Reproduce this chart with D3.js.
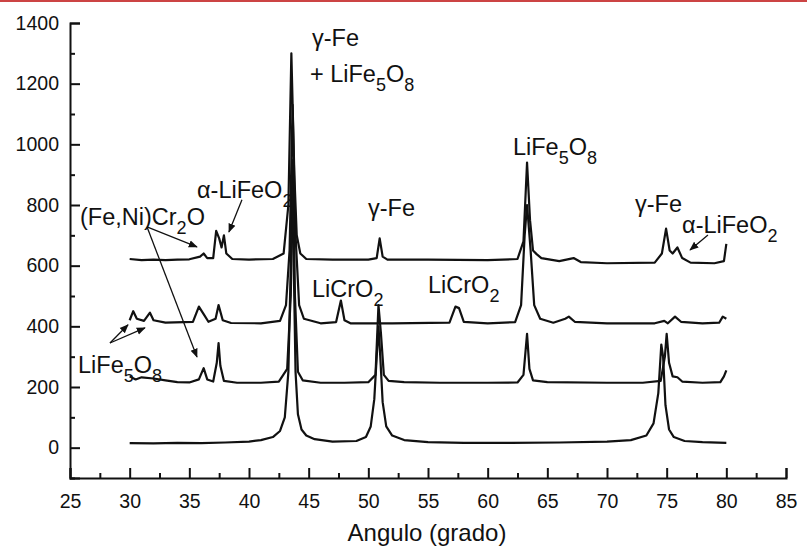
<html>
<head>
<script src="https://d3js.org/d3.v7.min.js"></script>
<style>
  body { margin: 0; background: white; }
  svg text { font-family: Arial, "Liberation Sans", sans-serif; fill: #111; }
</style>
</head>
<body>
<svg id="chart" width="807" height="548"></svg>
<script>
// ---- data: [angle (deg), intensity] ----
const trace0 = [[30,15],[32,14],[34,16],[36,15],[38,17],[40,20],[41,25],[42,35],[42.6,55],[43.0,100],[43.3,250],[43.5,600],[43.62,900],[43.75,600],[43.9,250],[44.1,110],[44.4,60],[44.8,40],[45.5,28],[47,20],[49,22],[49.8,35],[50.2,70],[50.5,160],[50.7,300],[50.85,400],[51.0,300],[51.2,150],[51.5,70],[52,40],[53,25],[55,18],[58,16],[62,16],[66,17],[70,20],[72,25],[73.3,40],[73.9,80],[74.3,180],[74.55,340],[74.7,300],[74.9,140],[75.2,60],[75.6,35],[76.5,22],[78,18],[80,16]];

const trace1 = [[30,235],[30.5,225],[31,232],[32,228],[33,222],[34,216],[35,215],[35.8,225],[36.2,262],[36.5,225],[37.0,218],[37.3,280],[37.45,345],[37.6,270],[37.9,220],[39,214],[41,214],[42.5,218],[43.2,260],[43.5,500],[43.7,950],[43.85,500],[44.1,250],[44.5,222],[46,214],[48,214],[50,216],[50.6,240],[50.85,470],[51.05,380],[51.3,240],[51.7,220],[53,216],[56,214],[60,214],[62.5,215],[63.0,240],[63.3,375],[63.5,260],[63.8,222],[65,216],[70,214],[73,214],[74.5,220],[74.85,300],[75.0,375],[75.2,280],[75.5,235],[75.9,232],[76.3,218],[78,214],[79.5,216],[79.8,235],[80,255]];

const trace2 = [[30,420],[30.3,450],[30.6,425],[31.2,418],[31.7,445],[32.0,420],[33,412],[35.3,415],[35.8,465],[36.2,440],[36.6,415],[37.2,425],[37.45,470],[37.8,420],[38.5,411],[41,410],[42.6,418],[43.1,470],[43.4,650],[43.65,1130],[43.9,700],[44.2,470],[44.6,425],[46,410],[47.3,414],[47.7,485],[48.0,420],[48.5,410],[52,410],[56.8,412],[57.3,465],[57.6,460],[58,415],[60,410],[62.3,414],[62.8,470],[63.1,700],[63.3,800],[63.6,650],[63.9,470],[64.4,425],[65.5,412],[66.5,425],[66.8,432],[67.3,415],[70,410],[74,410],[74.8,418],[75.1,410],[75.7,432],[76.2,415],[78,410],[79.4,412],[79.7,432],[80,425]];

const trace3 = [[30,622],[31,618],[32,620],[33,618],[34,620],[35,621],[35.9,630],[36.2,640],[36.5,625],[37.0,625],[37.25,715],[37.5,690],[37.7,660],[37.9,700],[38.1,640],[38.6,622],[40,620],[42,622],[42.9,640],[43.3,800],[43.55,1300],[43.8,900],[44.0,700],[44.3,640],[44.8,622],[47,620],[50,620],[50.7,625],[50.95,690],[51.2,630],[51.6,620],[55,620],[60,618],[62.5,622],[63.0,680],[63.3,940],[63.55,750],[63.8,650],[64.1,638],[64.5,625],[66,615],[67.2,625],[67.8,612],[70,608],[74,610],[74.6,640],[74.95,722],[75.25,650],[75.5,640],[75.9,660],[76.3,625],[77,610],[79,608],[79.8,615],[80,672]];

const traces = [trace0, trace1, trace2, trace3];

const xTicks = [25, 30, 35, 40, 45, 50, 55, 60, 65, 70, 75, 80, 85];
const xMinor = [27.5, 32.5, 37.5, 42.5, 47.5, 52.5, 57.5, 62.5, 67.5, 72.5, 77.5, 82.5];
const yTicks = [0, 200, 400, 600, 800, 1000, 1200, 1400];
const yMinor = [-100, 100, 300, 500, 700, 900, 1100, 1300];

// phase labels: pieces of [text, isSubscript], anchored at [angle, intensity]
const labels = [
  {at: [45.28, 1324], parts: [["γ-Fe", 0]]},
  {at: [45.11, 1205], parts: [["+ LiFe", 0], ["5", 1], ["O", 0], ["8", 1]]},
  {at: [62.12, 965], parts: [["LiFe", 0], ["5", 1], ["O", 0], ["8", 1]]},
  {at: [35.64, 823], parts: [["α-LiFeO", 0], ["2", 1]]},
  {at: [25.84, 734], parts: [["(Fe,Ni)Cr", 0], ["2", 1], ["O", 0]]},
  {at: [25.67, 246], parts: [["LiFe", 0], ["5", 1], ["O", 0], ["8", 1]]},
  {at: [49.97, 764], parts: [["γ-Fe", 0]]},
  {at: [45.28, 497], parts: [["LiCrO", 0], ["2", 1]]},
  {at: [55.0, 510], parts: [["LiCrO", 0], ["2", 1]]},
  {at: [72.35, 777], parts: [["γ-Fe", 0]]},
  {at: [76.29, 708], parts: [["α-LiFeO", 0], ["2", 1]]}
];

const arrows = [
  [[39.41, 817], [38.32, 711]],
  [[31.45, 728], [35.64, 662]],
  [[31.45, 728], [35.64, 299]],
  [[28.35, 345], [29.86, 405]],
  [[28.35, 345], [31.28, 395]],
  [[78.46, 701], [76.96, 652]]
];

const svg = d3.select('#chart');

// red rule on top of the scan
svg.append('rect').attr('x', 0).attr('y', 0).attr('width', 807).attr('height', 2).attr('fill', '#cc4444');

const x = d3.scaleLinear().domain([25, 85]).range([70, 786]);
const y = d3.scaleLinear().domain([-100, 1400]).range([478, 23]);

// traces
const line = d3.line().x(d => x(d[0])).y(d => y(d[1]));
svg.append('g').selectAll('path')
  .data(traces)
  .join('path')
  .attr('d', line)
  .attr('fill', 'none')
  .attr('stroke', '#111')
  .attr('stroke-width', 2.2)
  .attr('stroke-linejoin', 'round');

// axes, ticks pointing inward
svg.append('g').attr('transform', 'translate(0,478)')
  .call(d3.axisBottom(x).tickValues(xTicks).tickSize(-10).tickPadding(16).tickFormat(d3.format('d')));
svg.append('g').attr('transform', 'translate(0,478)')
  .call(d3.axisBottom(x).tickValues(xMinor).tickSize(-5).tickFormat(''))
  .call(g => g.select('.domain').remove());

svg.append('g').attr('transform', 'translate(70,0)')
  .call(d3.axisLeft(y).tickValues(yTicks).tickSize(-10).tickPadding(11).tickFormat(d3.format('d')));
svg.append('g').attr('transform', 'translate(70,0)')
  .call(d3.axisLeft(y).tickValues(yMinor).tickSize(-5).tickFormat(''))
  .call(g => g.select('.domain').remove());

svg.selectAll('.domain').attr('stroke', '#111').attr('stroke-width', 2);
svg.selectAll('.tick line').attr('stroke', '#111').attr('stroke-width', 2);
svg.selectAll('.tick text').style('font-size', '19.5px').attr('fill', '#111');

svg.append('text')
  .attr('x', 427).attr('y', 541)
  .attr('text-anchor', 'middle')
  .style('font-size', '24px')
  .text('Angulo (grado)');

// phase labels
const lab = svg.append('g').selectAll('text')
  .data(labels)
  .join('text')
  .attr('x', d => x(d.at[0]))
  .attr('y', d => y(d.at[1]))
  .style('font-size', '23.5px');
lab.each(function(d) {
  const t = d3.select(this);
  let shifted = false;
  d.parts.forEach(p => {
    const s = t.append('tspan').text(p[0]);
    if (p[1]) { s.attr('dy', shifted ? 0 : 9).style('font-size', '18px'); shifted = true; }
    else if (shifted) { s.attr('dy', -9); shifted = false; }
  });
});

// arrows
svg.append('defs').append('marker')
  .attr('id', 'head').attr('viewBox', '0 0 10 10')
  .attr('refX', 9).attr('refY', 5)
  .attr('markerWidth', 7).attr('markerHeight', 7)
  .attr('orient', 'auto')
  .append('path').attr('d', 'M0,1L10,5L0,9Z').attr('fill', '#111');

svg.append('g').selectAll('line')
  .data(arrows)
  .join('line')
  .attr('x1', d => x(d[0][0])).attr('y1', d => y(d[0][1]))
  .attr('x2', d => x(d[1][0])).attr('y2', d => y(d[1][1]))
  .attr('stroke', '#111').attr('stroke-width', 1.3)
  .attr('marker-end', 'url(#head)');
</script>
</body>
</html>
